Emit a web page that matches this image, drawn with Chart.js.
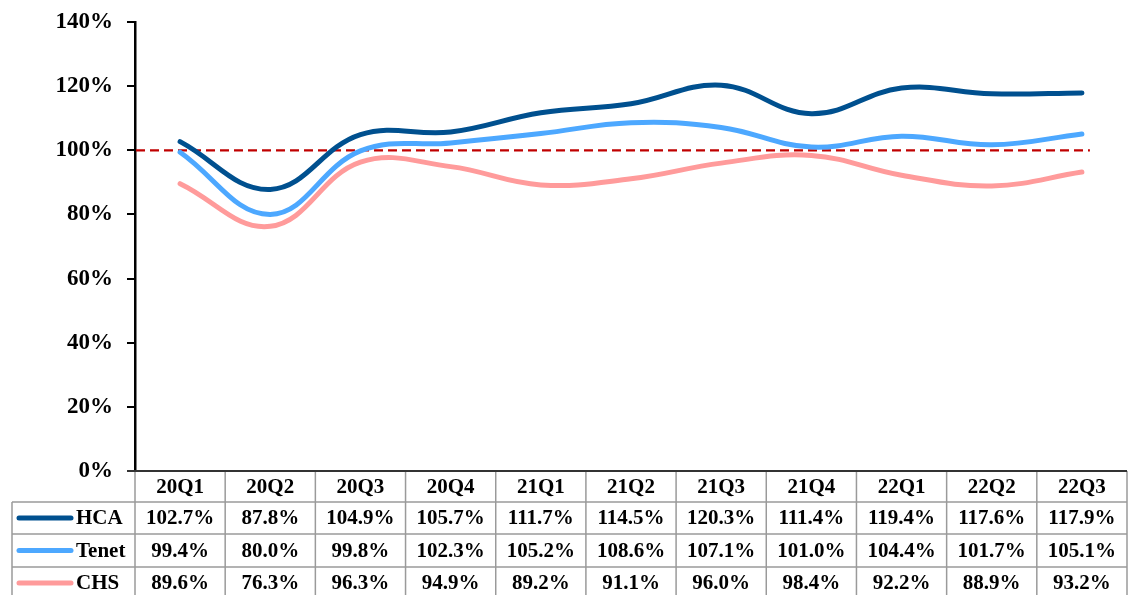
<!DOCTYPE html>
<html>
<head>
<meta charset="utf-8">
<script src="https://cdn.jsdelivr.net/npm/chart.js@4"></script>
<style>
html,body{margin:0;padding:0;background:#fff;}
#wrap{width:1129px;height:595px;position:relative;}
</style>
</head>
<body>
<div id="wrap"><canvas id="c" width="1129" height="595"></canvas></div>
<script>
const categories = ['20Q1','20Q2','20Q3','20Q4','21Q1','21Q2','21Q3','21Q4','22Q1','22Q2','22Q3'];
const hca   = [102.7, 87.8, 104.9, 105.7, 111.7, 114.5, 120.3, 111.4, 119.4, 117.6, 117.9];
const tenet = [99.4, 80.0, 99.8, 102.3, 105.2, 108.6, 107.1, 101.0, 104.4, 101.7, 105.1];
const chs   = [89.6, 76.3, 96.3, 94.9, 89.2, 91.1, 96.0, 98.4, 92.2, 88.9, 93.2];
const seriesNames = ['HCA','Tenet','CHS'];
const seriesColors = ['#00508F','#4DA8FF','#FF9B9B'];
const referenceLine = 100;

const FONT = '"Liberation Serif","Times New Roman",serif';

const tablePlugin = {
  id: 'tablePlugin',
  beforeDatasetsDraw(chart) {
    const {ctx, chartArea, scales} = chart;
    const y = scales.y.getPixelForValue(referenceLine);
    const xEnd = scales.x.getPixelForTick(categories.length - 1) + 8;
    ctx.save();
    ctx.strokeStyle = '#C00000';
    ctx.lineWidth = 2.2;
    ctx.setLineDash([9,5]);
    ctx.beginPath();
    ctx.moveTo(chartArea.left + 1, y);
    ctx.lineTo(xEnd, y);
    ctx.stroke();
    ctx.restore();
  },
  afterDraw(chart) {
    const {ctx, chartArea, scales} = chart;
    const xs = scales.x;
    const n = categories.length;
    const colW = xs.getPixelForTick(1) - xs.getPixelForTick(0);
    const top = chartArea.bottom;
    const rowH = [31, 32, 33, 32];
    const rowsY = [top];
    for (let i = 0; i < rowH.length; i++) rowsY.push(rowsY[i] + rowH[i]);
    const labelLeft = 12;
    const data = [hca, tenet, chs];
    ctx.save();
    ctx.strokeStyle = '#9a9a9a';
    ctx.lineWidth = 1.5;
    for (let r = 1; r < rowsY.length; r++) {
      ctx.beginPath();
      ctx.moveTo(labelLeft, rowsY[r]);
      ctx.lineTo(chartArea.right, rowsY[r]);
      ctx.stroke();
    }
    for (let i = 0; i <= n; i++) {
      const x = xs.getPixelForTick(0) - colW/2 + i*colW;
      ctx.beginPath();
      ctx.moveTo(x, top);
      ctx.lineTo(x, rowsY[rowsY.length-1]);
      ctx.stroke();
    }
    ctx.beginPath();
    ctx.moveTo(labelLeft, rowsY[1]);
    ctx.lineTo(labelLeft, rowsY[rowsY.length-1]);
    ctx.stroke();
    ctx.strokeStyle = '#333';
    ctx.lineWidth = 2;
    ctx.beginPath();
    ctx.moveTo(chartArea.left - 8, top);
    ctx.lineTo(chartArea.right, top);
    ctx.stroke();

    ctx.fillStyle = '#000';
    ctx.font = 'bold 21px ' + FONT;
    ctx.textAlign = 'center';
    ctx.textBaseline = 'middle';
    for (let i = 0; i < n; i++) {
      const cx = xs.getPixelForTick(i);
      ctx.fillText(categories[i], cx, (rowsY[0]+rowsY[1])/2 + 1);
      for (let s = 0; s < 3; s++) {
        ctx.fillText(data[s][i].toFixed(1) + '%', cx, (rowsY[s+1]+rowsY[s+2])/2 + 1);
      }
    }
    for (let s = 0; s < 3; s++) {
      const cy = (rowsY[s+1]+rowsY[s+2])/2;
      ctx.strokeStyle = seriesColors[s];
      ctx.lineWidth = 5;
      ctx.lineCap = 'round';
      ctx.beginPath();
      ctx.moveTo(19, cy);
      ctx.lineTo(71, cy);
      ctx.stroke();
      ctx.fillStyle = '#000';
      ctx.textAlign = 'left';
      ctx.fillText(seriesNames[s], 76, cy + 1);
    }
    ctx.restore();
  }
};

new Chart(document.getElementById('c'), {
  type: 'line',
  data: {
    labels: categories,
    datasets: [
      {label: seriesNames[0], data: hca, borderColor: seriesColors[0]},
      {label: seriesNames[1], data: tenet, borderColor: seriesColors[1]},
      {label: seriesNames[2], data: chs, borderColor: seriesColors[2]}
    ].map(d => Object.assign(d, {borderWidth: 5, tension: 0.4, pointRadius: 0, fill: false, borderCapStyle: 'round', borderJoinStyle: 'round'}))
  },
  options: {
    responsive: false,
    animation: false,
    devicePixelRatio: 1,
    layout: {padding: {top: 22, right: 2, bottom: 124, left: 0}},
    plugins: {legend: {display: false}, tooltip: {enabled: false}},
    scales: {
      x: {type: 'category', offset: true, display: false},
      y: {
        min: 0, max: 140,
        afterFit(scale) { scale.width = 135; scale.paddingTop = 0; scale.paddingBottom = 0; },
        ticks: {stepSize: 20, padding: 14, color: '#000', font: {family: FONT, size: 23, weight: 'bold'}, callback: v => v + '%'},
        grid: {drawOnChartArea: false, tickLength: 8, color: '#000', lineWidth: 2},
        border: {color: '#000', width: 2.5}
      }
    }
  },
  plugins: [tablePlugin]
});
</script>
</body>
</html>
